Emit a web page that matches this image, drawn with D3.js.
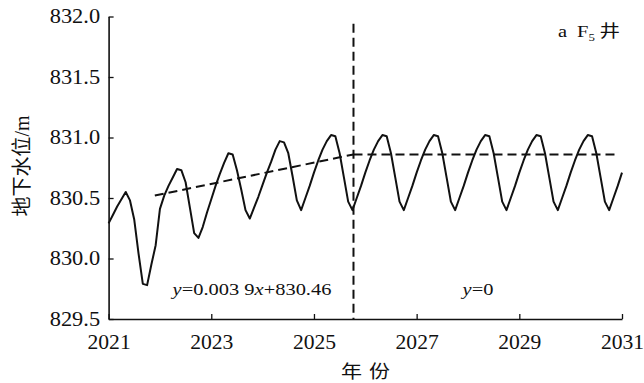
<!DOCTYPE html>
<html>
<head>
<meta charset="utf-8">
<script src="https://cdn.jsdelivr.net/npm/d3@7"></script>
<style>
	html, body { margin:0; padding:0; background:#fff; }
	svg text { fill:#111; }
	svg text.serif, svg .tick text { font-family:"Liberation Serif", "Times New Roman", "DejaVu Serif", serif; }
	svg .cjk { font-family:"Noto Sans CJK SC", sans-serif; }
</style>
</head>
<body>
<div id="chart"></div>
<script>
// monthly water level, one row per year (Jan..Dec), last value is Jan 2031
var startYear = 2021;
var level2021 = [830.29, 830.36, 830.43, 830.49, 830.55, 830.48, 830.32, 830.04, 829.79, 829.78, 829.95, 830.11];
var level2022 = [830.41, 830.52, 830.60, 830.67, 830.74, 830.73, 830.63, 830.42, 830.21, 830.17, 830.26, 830.38];
var level2023 = [830.49, 830.60, 830.70, 830.79, 830.87, 830.86, 830.73, 830.57, 830.40, 830.33, 830.42, 830.51];
var level2024 = [830.61, 830.71, 830.80, 830.90, 830.97, 830.96, 830.87, 830.68, 830.48, 830.40, 830.50, 830.60];
var level2025 = [830.71, 830.81, 830.90, 830.97, 831.02, 831.01, 830.87, 830.67, 830.47, 830.40, 830.50, 830.60];
var level2026 = [830.71, 830.81, 830.90, 830.97, 831.02, 831.01, 830.87, 830.67, 830.47, 830.40, 830.50, 830.60];
var level2027 = [830.71, 830.81, 830.90, 830.97, 831.02, 831.01, 830.87, 830.67, 830.47, 830.40, 830.50, 830.60];
var level2028 = [830.71, 830.81, 830.90, 830.97, 831.02, 831.01, 830.87, 830.67, 830.47, 830.40, 830.50, 830.60];
var level2029 = [830.71, 830.81, 830.90, 830.97, 831.02, 831.01, 830.87, 830.67, 830.47, 830.40, 830.50, 830.60];
var level2030 = [830.71, 830.81, 830.90, 830.97, 831.02, 831.01, 830.87, 830.67, 830.47, 830.40, 830.50, 830.60];
var level2031 = [830.71];

// trend lines (year, level)
var trendBefore = [[2021.9, 830.52], [2025.77, 830.86]];
var trendAfter = [[2025.77, 830.86], [2030.86, 830.86]];
var splitYear = 2025.77;

var xTicks = [2021, 2023, 2025, 2027, 2029, 2031];
var yTicks = [829.5, 830.0, 830.5, 831.0, 831.5, 832.0];

var W = 644, H = 383;
var margin = {left:108.6, right:22, top:16.5, bottom:64};
var stretch = 1.17; // glyphs in the picture are a bit wide

var levels = [].concat(level2021, level2022, level2023, level2024, level2025,
	level2026, level2027, level2028, level2029, level2030, level2031);
var series = levels.map(function(v, i){
	return {t: startYear + i / 12, v: v};
});

var svg = d3.select("#chart").append("svg")
	.attr("width", W).attr("height", H);

var x = d3.scaleLinear().domain([2021, 2031]).range([margin.left, W - margin.right]);
var y = d3.scaleLinear().domain([829.5, 832.0]).range([H - margin.bottom, margin.top]);

// axes
var xAxis = svg.append("g")
	.attr("transform", "translate(0," + y(829.5) + ")")
	.call(d3.axisBottom(x).tickValues(xTicks).tickFormat(d3.format("d"))
		.tickSizeInner(-5).tickSizeOuter(0).tickPadding(16));
var yAxis = svg.append("g")
	.attr("transform", "translate(" + x(2021) + ",0)")
	.call(d3.axisLeft(y).tickValues(yTicks).tickFormat(d3.format(".1f"))
		.tickSizeInner(-5).tickSizeOuter(0).tickPadding(7.6));

[[xAxis, 1.08], [yAxis, 1.12]].forEach(function(p){
	var a = p[0];
	a.attr("font-family", null);
	a.select(".domain").attr("stroke", "#111").attr("stroke-width", 1.6);
	a.selectAll(".tick line").attr("stroke", "#111").attr("stroke-width", 1.3);
	a.selectAll(".tick text")
		.attr("font-size", 20)
		.attr("fill", "#111")
		.attr("transform", "scale(" + p[1] + ",1)");
});

// water level curve
var line = d3.line()
	.x(function(d){ return x(d.t); })
	.y(function(d){ return y(d.v); });
svg.append("path")
	.datum(series)
	.attr("d", line)
	.attr("fill", "none")
	.attr("stroke", "#111")
	.attr("stroke-width", 2)
	.attr("stroke-linejoin", "round");

// dashed trends
var trend = d3.line()
	.x(function(d){ return x(d[0]); })
	.y(function(d){ return y(d[1]); });
[trendBefore, trendAfter].forEach(function(t){
	svg.append("path")
		.attr("d", trend(t))
		.attr("fill", "none")
		.attr("stroke", "#111")
		.attr("stroke-width", 2)
		.attr("stroke-dasharray", "9,5");
});
svg.append("line")
	.attr("x1", x(splitYear)).attr("x2", x(splitYear))
	.attr("y1", y(831.94)).attr("y2", y(829.5))
	.attr("stroke", "#111")
	.attr("stroke-width", 2)
	.attr("stroke-dasharray", "9,5");

// text helper, stretched horizontally about its anchor
function label(px, py, size, anchor){
	return svg.append("text")
		.attr("class", "serif")
		.attr("transform", "translate(" + px + "," + py + ") scale(" + stretch + ",1)")
		.attr("font-size", size)
		.attr("text-anchor", anchor);
}

var eq1 = label(252, 295, 17.5, "middle");
eq1.append("tspan").attr("font-style", "italic").text("y");
eq1.append("tspan").text("=0.003 9");
eq1.append("tspan").attr("font-style", "italic").text("x");
eq1.append("tspan").text("+830.46");

var eq2 = label(478, 295, 17.5, "middle");
eq2.append("tspan").attr("font-style", "italic").text("y");
eq2.append("tspan").text("=0");

// panel title
var title = label(558, 37, 17.5, "start");
title.append("tspan").text("a");
title.append("tspan").attr("dx", 8.5).text("F");
title.append("tspan").attr("font-size", 11).attr("dy", 4).text("5");
title.append("tspan").attr("class", "cjk").attr("dx", 4).attr("dy", -4).text("井");

// axis titles
svg.append("text")
	.attr("transform", "translate(29,166) rotate(-90)")
	.attr("text-anchor", "middle")
	.attr("font-size", 20)
	.call(function(t){
		t.append("tspan").attr("class", "cjk").text("地下水位");
		t.append("tspan").attr("class", "serif").text("/m");
	});

label(369, 378, 18, "middle")
	.attr("class", "cjk")
	.attr("letter-spacing", 6)
	.text("年份");
</script>
</body>
</html>
